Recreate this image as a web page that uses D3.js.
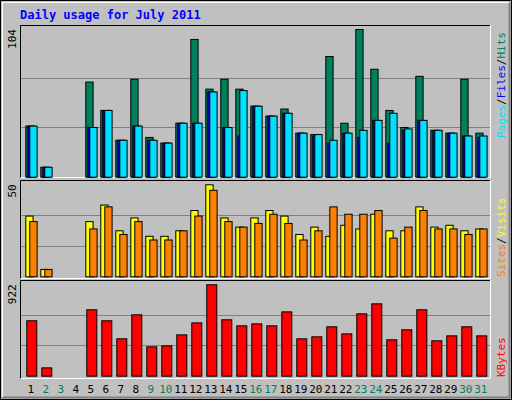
<!DOCTYPE html>
<html><head><meta charset="utf-8">
<script src="https://cdn.jsdelivr.net/npm/d3@7"></script>
<style>body{margin:0;background:#fff}svg{display:block}</style>
</head><body>
<script>
const days = d3.range(1, 32);
const weekend = [2,3,9,10,16,17,23,24,30,31];
const hits   = [36,7,0,0,67,47,26,69,28,24,38,97,62,69,62,50,43,48,31,30,85,38,104,76,47,35,71,33,31,69,31];
const files  = [36,7,0,0,35,47,26,36,26,24,38,38,60,35,29,50,43,45,31,29,24,31,28,40,24,33,40,33,31,29,28];
const pages  = [36,7,0,0,35,47,26,36,26,24,38,38,60,35,61,50,43,45,31,30,26,31,33,40,45,34,40,33,31,29,29];
const sites  = [33,4,0,0,30,39,25,32,22,22,25,36,50,32,27,32,36,33,23,27,22,28,26,34,25,25,38,27,28,25,26];
const visits = [30,4,0,0,26,38,23,30,20,20,25,33,47,30,27,29,34,29,20,25,38,34,34,36,21,27,36,26,26,23,26];
const kbytes = [559,84,0,0,670,559,377,619,296,306,417,538,922,569,508,528,508,649,377,397,498,427,629,730,367,468,670,357,407,498,407];
const maxLabels = ["104","50","922"];

const W = 512, H = 400;
const svg = d3.select("body").append("svg").attr("width", W).attr("height", H);
svg.append("rect").attr("x",0).attr("y",0).attr("width",W).attr("height",H).attr("fill","#c0c0c0");
svg.append("rect").attr("x",0.5).attr("y",0.5).attr("width",W-1).attr("height",H-1).attr("fill","none").attr("stroke","#000");
svg.append("path").attr("d",`M2.5,${H-3} V2.5 H${W-3}`).attr("stroke","#fff").attr("fill","none");
svg.append("path").attr("d",`M2.5,${H-2.5} H${W-2.5} V2.5`).attr("stroke","#808080").attr("stroke-width",2).attr("fill","none");

svg.append("text").attr("x",20).attr("y",19).attr("fill","#0000ff").attr("font-family","DejaVu Sans Mono")
  .attr("font-weight","bold").attr("font-size",12).text("Daily usage for July 2011");

const x = d3.scaleLinear().domain([1, 32]).range([25.3, 490.3]);

const panels = [
  {y0:25, y1:178, top:29, base:176.7, max:104},
  {y0:180, y1:279, top:184.3, base:276.3, max:50},
  {y0:280, y1:379, top:284.3, base:375.7, max:922}
];
const ys = panels.map(p => d3.scaleLinear().domain([0,p.max]).range([p.base,p.top]));

panels.forEach((p,i) => {
  const y = ys[i];
  [1/3, 2/3].forEach(f => {
    svg.append("line").attr("x1",21).attr("x2",490).attr("y1",Math.round(y(p.max*f))+0.5).attr("y2",Math.round(y(p.max*f))+0.5)
      .attr("stroke","#808080");
  });
  svg.append("path").attr("d",`M20.5,${p.y1} V${p.y0+0.5} H491`).attr("stroke","#000").attr("fill","none");
  svg.append("path").attr("d",`M20.5,${p.y1-0.5} H490.5 V${p.y0}`).attr("stroke","#fff").attr("fill","none");
  svg.append("text").attr("transform",`translate(16,${p.top}) rotate(-90)`).attr("text-anchor","end")
    .attr("font-family","DejaVu Sans Mono").attr("font-size",11).attr("fill","#000").text(maxLabels[i]);
});

function bars(data, yi, off, w, color) {
  const y = ys[yi];
  svg.append("g").selectAll("rect").data(days.filter((d,k)=>data[k]>0)).join("rect")
    .attr("x", d => x(d) + off + 0.5).attr("width", w)
    .attr("y", d => y(data[d-1]) + 0.5).attr("height", d => y(0) - y(data[d-1]))
    .attr("fill", color).attr("stroke", "#000").attr("stroke-width", 1);
}
bars(hits, 0, 0, 7.3, "#00805c");
bars(files, 0, 2, 7.3, "#0000ff");
bars(pages, 0, 4, 7.3, "#00e0ff");
bars(sites, 1, 0, 7.3, "#ffff00");
bars(visits, 1, 4, 7.3, "#ff8000");
bars(kbytes, 2, 1, 10, "#ff0000");

svg.append("g").selectAll("text").data(days).join("text")
  .attr("x", d => x(d) + 5.5).attr("y", 393).attr("text-anchor","middle")
  .attr("font-family","DejaVu Sans Mono").attr("font-size",11)
  .attr("fill", d => weekend.includes(d) ? "#00805c" : "#000").text(d => d);

function sideLabel(parts, yBottom) {
  const t = svg.append("text").attr("transform",`translate(505,${yBottom}) rotate(-90)`)
    .attr("font-family","DejaVu Sans Mono").attr("font-size",11);
  parts.forEach(([s,c]) => t.append("tspan").attr("fill",c).text(s));
}
sideLabel([["Pages","#00e0ff"],["/","#000"],["Files","#0000ff"],["/","#000"],["Hits","#00805c"]], 138);
sideLabel([["Sites","#ff8000"],["/","#000"],["Visits","#ffff00"]], 277);
sideLabel([["KBytes","#ff0000"]], 377);
</script>
</body></html>
